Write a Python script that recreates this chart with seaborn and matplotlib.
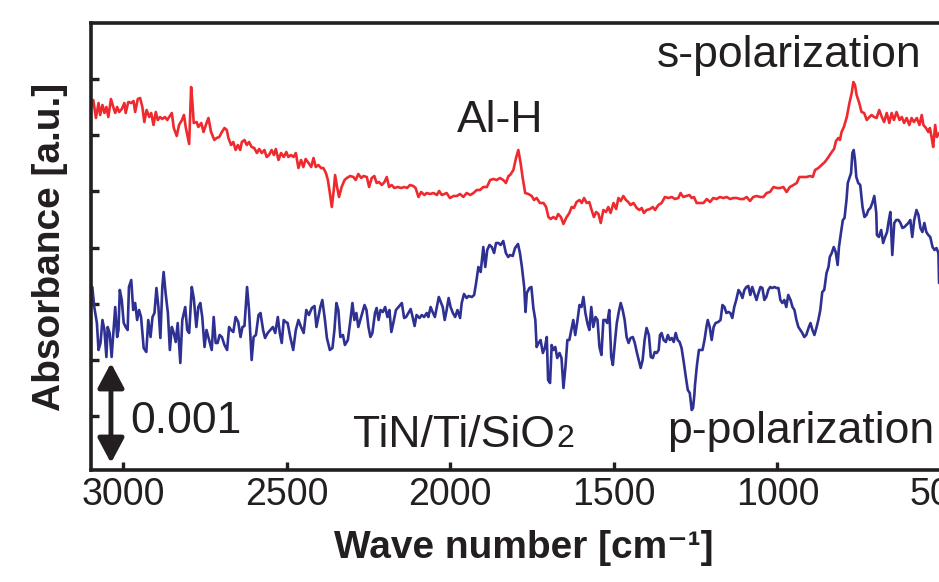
import matplotlib
matplotlib.use("Agg")
import matplotlib.pyplot as plt
import seaborn as sns
import pandas as pd

# ---------------- data (wave number in cm^-1, absorbance in 1e-5 a.u., arbitrary offset) -------------
red_wn = [3104, 3098, 3091, 3083, 3075, 3070, 3063, 3057, 3051, 3045, 3037, 3029, 3024, 3018, 3012, 3004,
          2996, 2992, 2984, 2975, 2968, 2963, 2955, 2948, 2941, 2935, 2928, 2920, 2914, 2907, 2900, 2894,
          2887, 2880, 2872, 2865, 2859, 2851, 2845, 2836, 2829, 2820, 2814, 2808, 2798, 2792, 2788, 2784,
          2775, 2770, 2761, 2754, 2747, 2739, 2731, 2721, 2714, 2706, 2698, 2690, 2683, 2678, 2670, 2663,
          2656, 2649, 2642, 2637, 2629, 2622, 2615, 2607, 2599, 2591, 2584, 2576, 2568, 2561, 2554, 2546,
          2539, 2533, 2525, 2517, 2509, 2501, 2495, 2487, 2479, 2472, 2464, 2456, 2449, 2442, 2433, 2425,
          2418, 2411, 2403, 2395, 2388, 2380, 2374, 2368, 2362, 2356, 2352, 2346, 2340, 2332, 2323, 2316,
          2306, 2296, 2289, 2281, 2272, 2265, 2255, 2248, 2240, 2232, 2225, 2218, 2209, 2201, 2194, 2187,
          2179, 2171, 2161, 2150, 2140, 2132, 2123, 2113, 2106, 2097, 2089, 2079, 2072, 2062, 2051, 2041,
          2034, 2026, 2018, 2011, 2001, 1990, 1980, 1970, 1960, 1950, 1939, 1929, 1919, 1909, 1899, 1888,
          1878, 1868, 1858, 1848, 1838, 1830, 1822,
          1817, 1807, 1799, 1792, 1785, 1779, 1771, 1761, 1751, 1744, 1736, 1726, 1715, 1707, 1700, 1693,
          1685, 1677, 1670, 1662, 1654, 1646, 1636, 1629, 1622, 1614, 1605, 1598, 1591, 1583, 1575, 1568,
          1561, 1554, 1547, 1540, 1532, 1524, 1517, 1510, 1501, 1493, 1486, 1479, 1471, 1463, 1456, 1449,
          1440, 1430, 1422, 1415, 1408, 1400, 1389, 1381, 1374, 1364, 1354, 1344, 1333, 1323, 1313, 1303,
          1296, 1288, 1279, 1269, 1262, 1255, 1247, 1237, 1226, 1216, 1206, 1196, 1186, 1176, 1165, 1155,
          1145, 1135, 1125, 1114, 1104, 1094, 1084, 1074, 1063, 1053, 1043, 1033, 1023, 1012, 1002, 992,
          982, 972, 962, 951, 941, 933, 923, 911, 900, 892, 885, 875, 865, 855, 844, 834,
          827, 821, 814, 809, 804, 797, 788, 780, 773, 768, 763, 758, 750, 743, 735, 727,
          719, 712, 705, 697, 689, 681, 674, 666, 658, 651, 644, 636, 627, 620, 613, 605,
          597, 590, 583, 574, 566, 559, 554, 546, 539, 534, 529, 524, 518, 513, 506]
red_abs = [377, 362, 370, 352, 367, 355, 365, 357, 363, 353, 371, 362, 357, 363, 358, 361,
           367, 357, 368, 367, 369, 358, 371, 372, 363, 348, 360, 353, 357, 345, 358, 350,
           353, 351, 353, 350, 353, 357, 342, 334, 345, 350, 355, 342, 326, 383, 367, 347,
           348, 343, 347, 338, 345, 352, 338, 330, 332, 333, 338, 342, 340, 332, 325, 328,
           320, 325, 320, 328, 330, 325, 328, 323, 322, 317, 321, 317, 320, 313, 315, 320,
           315, 321, 310, 317, 313, 318, 313, 315, 313, 317, 302, 310, 303, 311, 307, 303,
           312, 303, 305, 302, 302, 297, 290, 277, 263, 280, 295, 283, 273, 283, 290, 292,
           294, 293, 290, 296, 292, 294, 293, 283, 292, 294, 287, 288, 285, 288, 293, 283,
           285, 282, 283, 282, 283, 282, 285, 284, 282, 273, 278, 275, 277, 276, 277, 275,
           279, 275, 276, 277, 272, 274, 274, 276, 273, 277, 275, 277, 280, 280, 283, 283,
           290, 291, 290, 292, 290, 287, 294,
           295, 300, 312, 320, 307, 293, 277, 276, 274, 270, 272, 267, 267, 263, 253, 251,
           253, 251, 256, 253, 246, 252, 257, 263, 262, 268, 270, 267, 272, 267, 268, 260,
           253, 258, 256, 247, 260, 258, 263, 257, 267, 261, 272, 269, 274, 270, 268, 265,
           267, 262, 260, 262, 257, 260, 261, 263, 260, 265, 267, 273, 272, 273, 271, 272,
           277, 273, 274, 275, 272, 273, 267, 267, 267, 271, 268, 272, 271, 273, 272, 273,
           271, 272, 272, 271, 271, 273, 269, 273, 274, 273, 273, 277, 278, 283, 282, 282,
           283, 278, 283, 285, 287, 293, 293, 293, 294, 293, 300, 302, 305, 308, 313, 318,
           321, 329, 332, 330, 338, 343, 353, 367, 377, 388, 385, 375, 367, 358, 357, 350,
           353, 355, 353, 352, 360, 353, 348, 357, 347, 357, 350, 358, 350, 353, 347, 352,
           345, 352, 348, 352, 345, 355, 345, 342, 338, 342, 333, 323, 345, 333, 337]

blue_wn = [3104, 3098, 3094, 3088, 3080, 3075, 3069, 3063, 3057, 3051, 3047, 3041, 3035, 3029, 3024, 3018,
           3014, 3010, 3004, 2998, 2992, 2986, 2982, 2975, 2969, 2963, 2957, 2951, 2945, 2937, 2929, 2923,
           2916, 2910, 2904, 2898, 2892, 2886, 2880, 2876, 2870, 2863, 2857, 2851, 2845, 2839, 2833, 2825,
           2819, 2810, 2804, 2798, 2790, 2784, 2776, 2770, 2764, 2758, 2751, 2745, 2737, 2729, 2723, 2717,
           2711, 2705, 2698, 2690, 2682, 2676, 2670, 2663, 2656, 2648, 2641, 2635, 2629, 2621, 2615, 2607,
           2601, 2594, 2586, 2580, 2572, 2566, 2558, 2550, 2542, 2535, 2527, 2521, 2515, 2509, 2503, 2497,
           2489, 2480, 2472, 2464, 2456, 2448, 2440, 2432, 2423, 2415, 2409, 2403, 2397, 2391, 2383, 2377,
           2368, 2360, 2354, 2348, 2342, 2336, 2328, 2322, 2313, 2305, 2299, 2293, 2287, 2281, 2275, 2269,
           2262, 2256, 2250, 2244, 2238, 2230,
           2225, 2219, 2213, 2206, 2199, 2192, 2186, 2180, 2174, 2166, 2158, 2148, 2141, 2135, 2128, 2121,
           2115, 2109, 2103, 2094, 2087, 2080, 2072, 2067, 2060, 2054, 2047, 2041, 2035, 2029, 2023, 2017,
           2011, 2005, 1999, 1992, 1985, 1978, 1970, 1965, 1958, 1950, 1944, 1934, 1927, 1921, 1914, 1907,
           1899, 1893, 1887, 1880, 1873, 1866, 1860, 1853, 1846, 1838, 1830, 1823, 1817, 1809, 1802, 1793,
           1787, 1781, 1774, 1770, 1766, 1758, 1752, 1746, 1740, 1736, 1730, 1724, 1717, 1711, 1705, 1701,
           1695, 1690, 1685, 1679, 1673, 1666, 1660, 1654, 1648, 1642, 1636, 1630, 1624, 1618, 1611, 1605,
           1599, 1593, 1587, 1581, 1575, 1569, 1563, 1556, 1550, 1544, 1538, 1532, 1526, 1520, 1514, 1508,
           1503, 1497, 1491, 1485, 1479, 1473, 1467, 1461, 1455, 1449, 1442, 1436, 1430, 1424, 1418, 1412,
           1406, 1400, 1393, 1387, 1381, 1375, 1369, 1363, 1359,
           1354, 1348, 1341, 1335, 1329, 1323, 1317, 1311, 1305, 1299, 1293, 1286, 1280, 1274, 1268, 1262,
           1258, 1254, 1252, 1246, 1240, 1236, 1229, 1223, 1217, 1213, 1207, 1201, 1195, 1189, 1181, 1174,
           1168, 1162, 1156, 1150, 1144, 1138, 1132, 1126, 1119, 1113, 1107, 1101, 1095, 1089, 1083, 1077,
           1071, 1064, 1058, 1052, 1046, 1040, 1034, 1028, 1022, 1016, 1009, 1003, 997, 991, 985, 979,
           973, 967, 960, 954, 948, 942, 936, 930, 924, 918, 912, 905, 899, 893, 887, 881,
           875, 869, 863, 857, 850, 844, 840, 834, 828, 822, 816, 812, 806, 800, 795, 789,
           785, 779, 775, 771, 767, 763, 759, 753, 747, 740, 734, 728, 722, 716, 710, 704,
           698, 696, 690, 683, 677, 671, 665, 661, 655, 649, 643, 637, 630, 624, 618, 612,
           606, 600, 594, 588, 582, 575, 569, 563, 557, 551, 545, 539, 533, 526, 520, 514,
           508, 506]
blue_abs = [123, 167, 183, 163, 147, 120, 127, 150, 140, 113, 143, 137, 113, 140, 163, 133,
            140, 180, 170, 147, 143, 140, 183, 190, 160, 167, 150, 160, 153, 122, 118, 150,
            133, 153, 157, 182, 163, 132, 183, 198, 177, 157, 120, 143, 137, 128, 147, 107,
            150, 163, 140, 137, 183, 172, 143, 163, 167, 153, 123, 140, 130, 120, 153, 127,
            127, 135, 133, 125, 120, 143, 140, 138, 153, 148, 133, 143, 144, 183, 160, 110,
            133, 135, 155, 157, 140, 132, 137, 140, 143, 137, 153, 137, 127, 150, 148, 147,
            133, 120, 140, 150, 143, 137, 160, 155, 162, 164, 143, 153, 163, 170, 150, 132,
            120, 122, 140, 167, 160, 133, 135, 125, 130, 150, 167, 150, 157, 143, 150, 157,
            165, 160, 143, 133, 137, 157,
            162, 150, 160, 158, 163, 153, 160, 138, 147, 160, 163, 167, 152, 153, 157, 161,
            153, 144, 155, 152, 155, 153, 157, 153, 163, 158, 153, 163, 173, 168, 163, 150,
            160, 172, 163, 157, 153, 160, 152, 167, 176, 172, 174, 173, 175, 187, 203, 198,
            223, 203, 220, 225, 223, 217, 227, 227, 225, 229, 217, 213, 215, 214, 222, 226,
            217, 203, 183, 158, 177, 182, 183, 162, 150, 123, 127, 130, 117, 122, 133, 90,
            87, 125, 120, 123, 112, 117, 112, 82, 103, 130, 130, 140, 150, 135, 150, 165,
            163, 173, 157, 147, 140, 163, 143, 153, 150, 123, 115, 150, 150, 147, 160, 113,
            105, 127, 147, 158, 167, 160, 150, 133, 127, 132, 133, 127, 118, 110, 102, 110,
            130, 142, 135, 113, 112, 118, 117, 120, 135,
            137, 130, 128, 135, 130, 132, 128, 137, 130, 128, 122, 107, 93, 80, 77, 60,
            62, 75, 85, 105, 120, 120, 120, 130, 143, 150, 143, 130, 143, 147, 148, 150,
            165, 163, 157, 158, 157, 152, 163, 170, 180, 177, 172, 180, 183, 184, 175, 183,
            177, 170, 177, 183, 182, 170, 173, 180, 183, 182, 183, 182, 182, 170, 167, 170,
            163, 175, 170, 163, 160, 150, 143, 140, 137, 133, 135, 142, 147, 140, 135, 142,
            150, 160, 178, 180, 197, 203, 213, 217, 223, 218, 205, 223, 237, 250, 252, 270,
            287, 293, 297, 317, 320, 310, 293, 287, 285, 263, 253, 255, 260, 262, 267, 274,
            257, 235, 233, 240, 227, 233, 238, 247, 258, 215, 247, 250, 250, 247, 242, 243,
            245, 247, 250, 233, 250, 260, 255, 242, 238, 247, 238, 235, 233, 223, 220, 222,
            217, 187]

x_ticks = [3000, 2500, 2000, 1500, 1000, 500]
y_ticks = [54, 110, 166, 222, 279, 335, 391]

RED = "#ee2a2f"
BLUE = "#2e3192"
INK = "#231f20"

sns.set_theme(style="ticks")
plt.rcParams["font.family"] = ["Liberation Sans", "DejaVu Sans"]

fig = plt.figure(figsize=(9.39, 5.82), dpi=100)
ax = fig.add_axes([91 / 939, 112 / 582, (957.4 - 91) / 939, 447 / 582])

df_s = pd.DataFrame({"wn": red_wn, "abs": red_abs})
df_p = pd.DataFrame({"wn": blue_wn, "abs": blue_abs})
sns.lineplot(data=df_s, x="wn", y="abs", color=RED, lw=1.9, estimator=None, sort=False, ax=ax)
sns.lineplot(data=df_p, x="wn", y="abs", color=BLUE, lw=1.9, estimator=None, sort=False, ax=ax)

ax.set_xlim(3098, 450)
ax.set_ylim(0, 447)
ax.set_xticks(x_ticks)
ax.set_yticks(y_ticks)
ax.set_yticklabels([])

for lab in ax.get_xticklabels():
    lab.set_fontsize(27)
    lab.set_color(INK)

ax.tick_params(axis="x", direction="in", length=6, width=2.4, color=INK, pad=5)
ax.tick_params(axis="y", direction="in", length=5.5, width=2.4, color=INK)
for sp in ax.spines.values():
    sp.set_linewidth(2.6)
    sp.set_color(INK)
ax.grid(False)

ax.set_xlabel("Wave number [cm\u207b\u00b9]", fontsize=28, fontweight="bold",
              color=INK, labelpad=12)
ax.set_ylabel("Absorbance [a.u.]", fontsize=28, fontweight="bold", color=INK, labelpad=13)

tk = dict(fontsize=32, color=INK, va="baseline")
ax.text(1848, 338, "Al-H", ha="center", **tk)
ax.text(1368, 403, "s-polarization", ha="left", **tk)
ax.text(1337, 27, "p-polarization", ha="left", **tk)
main = ax.text(2297, 23, "TiN/Ti/SiO", ha="left", **tk)
ax.annotate("2", xy=(1, 0), xycoords=main, xytext=(1, 1.5), textcoords="offset points",
            ha="left", va="bottom", fontsize=23, color=INK)
ax.text(2979, 37, "0.001", ha="left", **tk)

ax.annotate("", xy=(3037, 7), xytext=(3037, 107),
            arrowprops=dict(arrowstyle="<|-|>,head_length=15,head_width=8", mutation_scale=1,
                            lw=3.5, color=INK, shrinkA=0, shrinkB=0))

fig.savefig("out.png", dpi=100)
